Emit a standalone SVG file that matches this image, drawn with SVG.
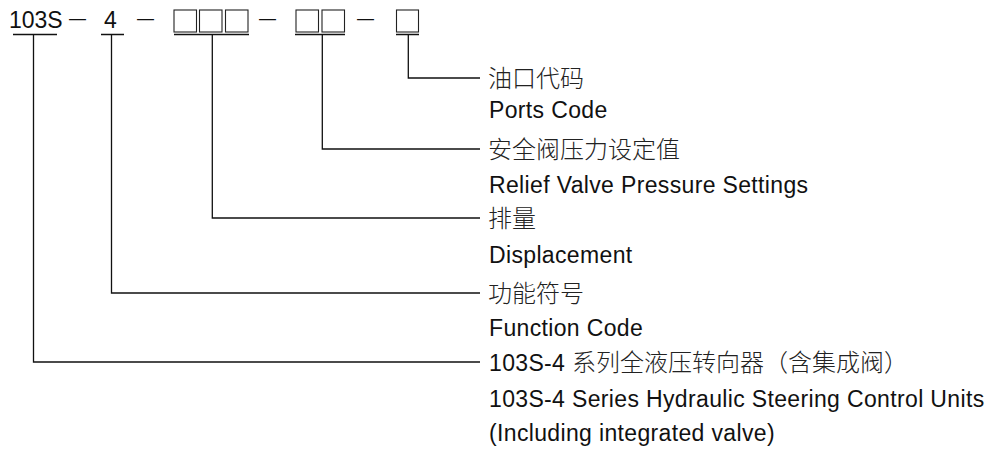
<svg xmlns="http://www.w3.org/2000/svg" width="992" height="451" viewBox="0 0 992 451">
<style>
.en{font-family:"Liberation Sans",Arial,sans-serif;font-size:23px;letter-spacing:0.35px;fill:#111}
.code{font-family:"Liberation Sans",Arial,sans-serif;font-size:23px;fill:#111}
.dash{font-family:"Liberation Sans",Arial,sans-serif;font-size:17px;fill:#111}
.zh{font-family:"Noto Sans CJK SC","Noto Sans",sans-serif;font-size:24px;font-weight:300;fill:#222}
.ln{stroke:#111;stroke-width:1.3;fill:none}
.box{stroke:#222;stroke-width:1.1;fill:none}
</style>
<rect width="992" height="451" fill="#fff"/>
<g id="code">
<text class="code" x="9" y="28">103S</text>
<text class="dash" x="69" y="24">—</text>
<text class="code" x="104" y="28">4</text>
<text class="dash" x="137" y="24">—</text>
<rect class="box" x="174" y="10" width="22.5" height="22"/>
<rect class="box" x="199.5" y="10" width="22.5" height="22"/>
<rect class="box" x="225.5" y="10" width="22.5" height="22"/>
<text class="dash" x="259" y="24">—</text>
<rect class="box" x="296" y="10" width="22.5" height="22"/>
<rect class="box" x="322" y="10" width="22.5" height="22"/>
<text class="dash" x="357" y="24">—</text>
<rect class="box" x="396.5" y="10" width="22" height="22"/>
<path class="ln" d="M13 34.5H57M101 34.5H124M174 34.5H249M295 34.5H345M396 34.5H419"/>
</g>
<g id="connectors">
<path class="ln" d="M408.3 34.5V78H480"/>
<path class="ln" d="M322.3 34.5V149H480"/>
<path class="ln" d="M212.3 34.5V218H480"/>
<path class="ln" d="M111.5 34.5V293H480"/>
<path class="ln" d="M33.5 34.5V362H480"/>
</g>
<g id="ports">
<text class="zh" x="488" y="87">油口代码</text>
<text class="en" x="489" y="118">Ports Code</text>
</g>
<g id="relief">
<text class="zh" x="488" y="158">安全阀压力设定值</text>
<text class="en" x="489" y="193">Relief Valve Pressure Settings</text>
</g>
<g id="displacement">
<text class="zh" x="488" y="227">排量</text>
<text class="en" x="489" y="263">Displacement</text>
</g>
<g id="function">
<text class="zh" x="488" y="302">功能符号</text>
<text class="en" x="489" y="336">Function Code</text>
</g>
<g id="series">
<text x="489" y="371"><tspan class="en">103S-4 </tspan><tspan class="zh">系列全液压转向器（含集成阀）</tspan></text>
<text class="en" x="489" y="407">103S-4 Series Hydraulic Steering Control Units</text>
<text class="en" x="489" y="441">(Including integrated valve)</text>
</g>
</svg>
